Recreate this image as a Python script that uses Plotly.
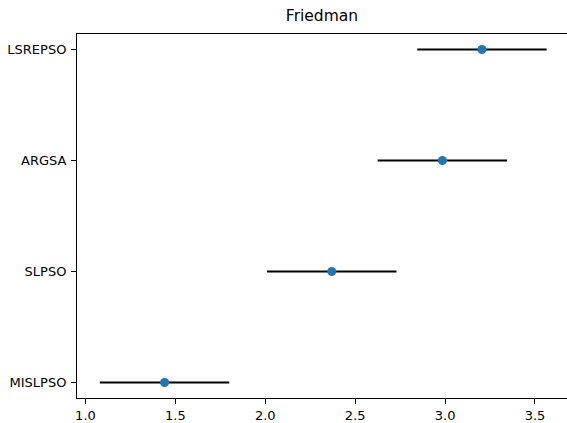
import plotly.graph_objects as go

algorithms = ["MISLPSO", "SLPSO", "ARGSA", "LSREPSO"]
mean_ranks = [1.44, 2.37, 2.985, 3.205]
half_widths = [0.36, 0.36, 0.36, 0.36]
x_ticks = [1.0, 1.5, 2.0, 2.5, 3.0, 3.5]
x_tick_labels = ["1.0", "1.5", "2.0", "2.5", "3.0", "3.5"]

fig = go.Figure()
fig.add_trace(go.Scatter(
    x=mean_ranks,
    y=algorithms,
    mode="markers",
    marker=dict(color="#1f77b4", size=9),
    error_x=dict(type="data", array=half_widths, symmetric=True,
                 color="black", thickness=2, width=0),
    showlegend=False,
))

font = "DejaVu Sans, sans-serif"
fig.update_layout(
    width=567, height=423,
    margin=dict(l=77, r=0, t=34, b=25, autoexpand=False),
    paper_bgcolor="white", plot_bgcolor="white",
    title=dict(text="Friedman", x=322 / 567, xanchor="center", y=1 - 16 / 423, yanchor="middle",
               font=dict(family=font, size=15.5, color="black")),
    font=dict(family=font, size=13, color="black"),
)
fig.update_xaxes(
    automargin=False,
    range=[0.953, 3.678],
    tickvals=x_ticks, ticktext=x_tick_labels,
    showgrid=False, zeroline=False,
    showline=True, linecolor="black", linewidth=1, mirror=True,
    ticks="outside", ticklen=5, tickcolor="black",
    tickfont=dict(family=font, size=13, color="black"),
)
fig.update_yaxes(
    automargin=False,
    type="category", categoryorder="array", categoryarray=algorithms,
    range=[-0.14, 3.14],
    showgrid=False, zeroline=False,
    showline=True, linecolor="black", linewidth=1, mirror=False,
    ticks="outside", ticklen=5, tickcolor="black",
    ticklabelstandoff=2,
    tickfont=dict(family=font, size=13, color="black"),
)

fig.write_html(
    "out.html",
    config={"displayModeBar": False},
    post_script="document.body.style.margin='0';document.body.style.overflow='hidden';",
)
